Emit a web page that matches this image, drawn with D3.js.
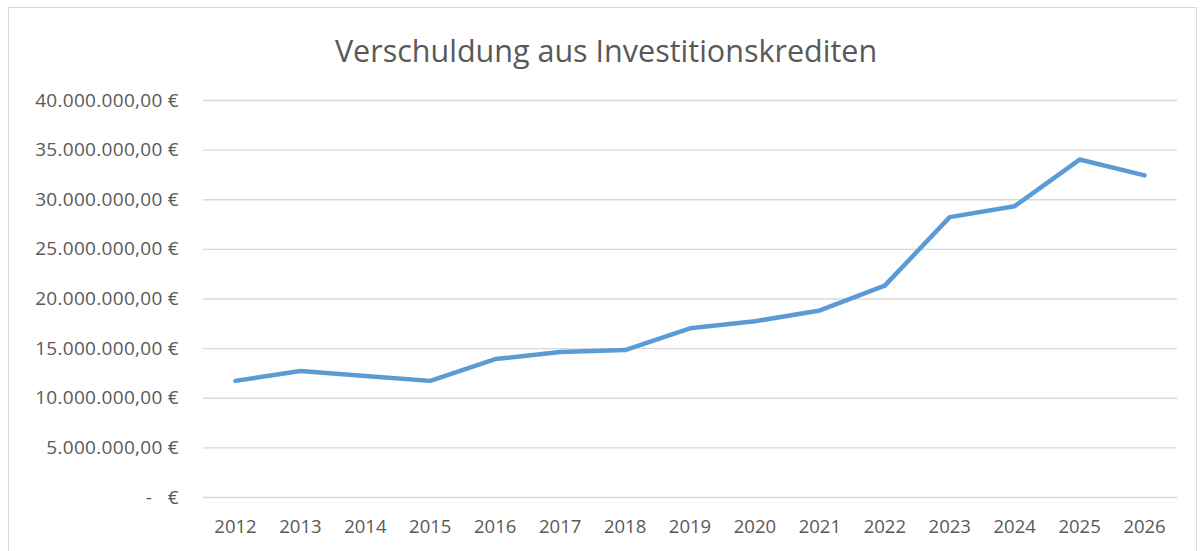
<!DOCTYPE html>
<html><head><meta charset="utf-8">
<script src="https://cdn.jsdelivr.net/npm/d3@7"></script>
<style>body{margin:0;background:#fff;} svg{display:block;}</style>
</head><body>
<svg id="c" width="1201" height="551"></svg>
<script>
const years = ["2012","2013","2014","2015","2016","2017","2018","2019","2020","2021","2022","2023","2024","2025","2026"];
const debt = [11700000,12700000,12200000,11700000,13900000,14600000,14800000,17000000,17700000,18800000,21300000,28200000,29300000,34000000,32400000];
const yTicks = [0,5000000,10000000,15000000,20000000,25000000,30000000,35000000,40000000];
const title = "Verschuldung aus Investitionskrediten";

const svg = d3.select("#c");
const m = {left:203, right:1177, top:100, bottom:497};
const font = "'Open Sans', 'Liberation Sans', sans-serif";

svg.append("rect").attr("x",8.5).attr("y",7.5).attr("width",1188).attr("height",560)
  .attr("fill","#fff").attr("stroke","#d9d9d9");

const x = d3.scaleBand().domain(years).range([m.left,m.right]);
const y = d3.scaleLinear().domain([0,40000000]).range([m.bottom,m.top]);

const fmt = v => v===0 ? "-\u00a0\u00a0\u00a0€" : d3.format(",.2f")(v).replace(/,/g,"#").replace(".",",").replace(/#/g,".") + " €";

const ya = svg.append("g").attr("transform",`translate(${m.left},0)`)
  .call(d3.axisLeft(y).tickValues(yTicks).tickSize(-(m.right-m.left)).tickPadding(24).tickFormat(fmt));
ya.select(".domain").remove();
ya.selectAll(".tick line").attr("stroke","#d9d9d9").attr("stroke-width",1.3);
ya.selectAll(".tick text").attr("fill","#595959").attr("font-family",font).attr("font-size",19)
  .attr("letter-spacing",0.3);

const xa = svg.append("g").attr("transform",`translate(0,${m.bottom})`)
  .call(d3.axisBottom(x).tickSize(0).tickPadding(0));
xa.select(".domain").remove();
xa.selectAll(".tick text").attr("fill","#595959").attr("font-family",font).attr("font-size",18.5)
  .attr("dy",null).attr("y",36);

svg.append("text").attr("x",606).attr("y",62).attr("text-anchor","middle")
  .attr("fill","#595959").attr("font-family",font).attr("font-size",30.5).text(title);

const line = d3.line().x((d,i)=>x(years[i])+x.bandwidth()/2).y(d=>y(d));
svg.append("path").datum(debt).attr("d",line).attr("fill","none")
  .attr("stroke","#5b9bd5").attr("stroke-width",4.5).attr("stroke-linejoin","round").attr("stroke-linecap","round");
</script>
</body></html>
